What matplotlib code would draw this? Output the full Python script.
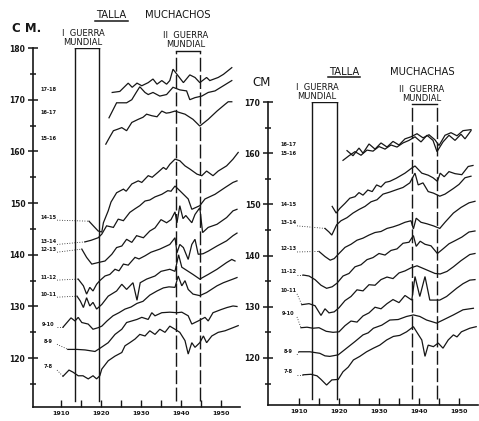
import matplotlib
matplotlib.use('Agg')
from matplotlib import pyplot
from matplotlib.lines import Line2D
from matplotlib.ticker import MultipleLocator, FixedLocator

FIG_W = 479
FIG_H = 421
DPI = 100
INK = '#161616'
CURVE_LW = 0.9

# ---- boys (muchachos): (year, cm) ----
boys_7_8 = [(1910.5, 116.5), (1912, 117.7), (1913, 117.3), (1914.3, 116.6), (1915.5, 116.6), (1916.8, 116),
            (1918, 116.6), (1918.9, 116), (1919.7, 116.6), (1920.2, 117.9), (1921.8, 119.5), (1923.5, 120.4),
            (1925.2, 121.1), (1926, 122.4), (1927.2, 123), (1928.5, 123.7), (1929.7, 124.6), (1931, 124.3),
            (1932.2, 125.3), (1933.5, 124.6), (1934.7, 125.6), (1936, 125), (1937.2, 126.2), (1938.5, 125.6),
            (1939.7, 125), (1941, 123.4), (1941.8, 120.8), (1942.7, 123), (1943.5, 122.1), (1944.7, 123),
            (1945.6, 124.3), (1946.4, 123), (1947.7, 124.3), (1949.3, 125), (1951, 125.3), (1953, 125.9),
            (1954.3, 126.3)]
boys_8_9 = [(1911.7, 121.7), (1914, 121.7), (1916, 121.6), (1918.5, 121.3), (1919.7, 121.9), (1921.8, 123),
            (1923.5, 124.6), (1925.2, 125.6), (1926.4, 126.9), (1927.7, 127.2), (1929, 127.5), (1930.2, 127.9),
            (1931.8, 127.5), (1932.7, 128.8), (1933.5, 128.2), (1935.2, 128.8), (1937.2, 128.9), (1939, 128.8),
            (1940.2, 128.9), (1941.8, 128.2), (1942.7, 126.6), (1944.3, 127.2), (1946, 127.9), (1946.8, 127.2),
            (1948, 128.8), (1950, 129.4), (1951.5, 129.8), (1953, 130.1), (1954, 130)]
boys_9_10 = [(1910.5, 126), (1911.5, 126.9), (1912.5, 127.8), (1913.5, 127.2), (1914.3, 127.9), (1915.2, 126.9),
             (1916.8, 126.6), (1918, 125.6), (1919.3, 125.9), (1920.2, 126.2), (1921.5, 127.2), (1923, 128.2),
             (1924.5, 128.8), (1926, 129.5), (1927.5, 129.9), (1929, 130.6), (1930.5, 131), (1932.2, 132.2),
             (1934, 133), (1935.6, 133.6), (1937, 133.8), (1938.5, 133.7), (1939.3, 135.9), (1940.2, 134),
             (1941, 135), (1941.8, 133.3), (1943, 132.4), (1944.7, 132.1), (1946.4, 132.7), (1949, 134),
             (1950.6, 134.6), (1953, 135.3), (1954, 135.6)]
boys_10_11 = [(1914, 132), (1914.8, 131.1), (1915.6, 129.8), (1916.4, 131.7), (1917.2, 130.1), (1918, 130.8),
              (1918.9, 129.5), (1920.2, 130.4), (1921.8, 132), (1923.9, 133), (1925.2, 134.3), (1926.4, 133.3),
              (1928, 134.6), (1929, 131.2), (1929.8, 134.6), (1931.4, 135.3), (1933.5, 135.9), (1935, 136.8),
              (1937.2, 137.2), (1938.5, 136.8), (1939.4, 140), (1940.2, 137.6), (1941, 137.2), (1943, 136.2),
              (1944.7, 135.3), (1946.8, 136.2), (1949, 137.2), (1951.4, 138.5), (1952.7, 139.1), (1953.5, 138.8)]
boys_11_12 = [(1914.3, 135.3), (1915.6, 134), (1916.4, 132.4), (1917.2, 133.7), (1918, 133), (1918.9, 134.3),
              (1919.7, 135), (1921, 135.9), (1922.2, 136.2), (1923.5, 137.2), (1924.5, 136.9), (1925.6, 138.2),
              (1926.8, 138), (1928.5, 139.5), (1929.5, 139.2), (1931, 139.8), (1932.5, 140.5), (1934.7, 141.1),
              (1937.2, 142), (1938.5, 143.3), (1939, 140.4), (1939.7, 142), (1940.6, 141.4), (1941.8, 139.1),
              (1942.7, 142), (1943.5, 143), (1944.3, 140.1), (1945.5, 140.2), (1946.8, 140.7), (1949, 141.7),
              (1951.4, 142.7), (1953, 143.7), (1954, 144.2)]
boys_12_13 = [(1915.2, 141.1), (1916.4, 139.5), (1917.7, 138.2), (1919.3, 138.5), (1921, 138.8), (1922.7, 140.1),
              (1923.9, 141.4), (1925.2, 141.7), (1926.4, 143), (1927.7, 142.4), (1928.9, 143.7), (1930.6, 143.3),
              (1932.2, 144.6), (1933.5, 145.2), (1935, 146.8), (1936.4, 146.2), (1937.5, 146.8), (1938.5, 148.3),
              (1939, 146.2), (1939.7, 149.5), (1940.5, 147), (1941.2, 147.6), (1942.7, 146.2), (1943.5, 147.8),
              (1944.7, 149.1), (1945.4, 144.3), (1946.8, 145.3), (1949, 145.9), (1951.4, 147.2), (1953, 148.5),
              (1954, 148.8)]
boys_13_14 = [(1916, 142.5), (1917.5, 142.8), (1919.3, 143.3), (1920.2, 144), (1921.4, 145.6), (1923.1, 145.3),
              (1924.3, 146.9), (1925.6, 146.6), (1927.2, 148.2), (1928.5, 148.9), (1929.7, 149.5), (1931, 150.4),
              (1932.2, 150.6), (1933.5, 151.2), (1935.2, 151.7), (1936.7, 152.4), (1937.5, 152.3), (1938.5, 153.3),
              (1939.7, 152.4), (1941.8, 150.8), (1942.7, 148.8), (1944.7, 149.5), (1946, 150.8), (1948.5, 151.7),
              (1951, 153), (1953, 154), (1954, 154.3)]
boys_14_15 = [(1917, 146.5), (1918.2, 145.5), (1919.3, 144.6), (1920.2, 144.4), (1920.6, 146.2), (1921.8, 148.5),
              (1922.5, 150.2), (1923.9, 152), (1925.6, 152.7), (1926.3, 152.3), (1927.7, 153.7), (1929.3, 154.3),
              (1930.2, 154), (1931.8, 155.3), (1932.8, 155), (1934.3, 156), (1935.6, 156.9), (1936.3, 156.5),
              (1937.2, 157.5), (1938.5, 158.5), (1939.7, 158.2), (1941, 157.2), (1942.2, 156.6), (1944, 155.6),
              (1945.2, 155.3), (1946.4, 156.2), (1948, 155.3), (1949.3, 156.2), (1951.4, 157.2), (1953, 158.5),
              (1954.3, 159.8)]
boys_15_16 = [(1921.2, 161.4), (1922.2, 162.8), (1923.1, 164), (1924.2, 164.3), (1925.2, 164.6), (1926.4, 164),
              (1927.7, 165.6), (1929.3, 166.2), (1930.5, 166.6), (1931.4, 167.2), (1932.7, 166.9), (1934, 166.7),
              (1935.2, 167.8), (1936.3, 167.4), (1937.2, 167.5), (1938.5, 167.8), (1939.7, 167.5), (1941, 167.2),
              (1943, 166.2), (1944.7, 164.9), (1946.8, 166.2), (1949, 167.8), (1951, 169.1), (1951.8, 169.6),
              (1952.7, 169.6)]
boys_16_17 = [(1922, 166.5), (1923.9, 169.4), (1926.4, 169.4), (1927.7, 170), (1928.8, 171.4), (1929.7, 172.5),
              (1931, 171.4), (1931.8, 171), (1933, 171.4), (1934.7, 170.7), (1936.4, 171), (1938, 172.4),
              (1939.7, 171.9), (1941.4, 171.7), (1942.2, 170), (1943.5, 170.4), (1945.2, 170.7), (1946.8, 171.4),
              (1948.5, 171.7), (1950.6, 172.7), (1952.7, 173.7)]
boys_17_18 = [(1922.8, 171.4), (1924.7, 171.6), (1926.8, 173.2), (1927.8, 172.4), (1929, 173.2), (1930.2, 172.7),
              (1931.8, 173.3), (1933, 174), (1934, 173), (1935.2, 173.7), (1936.4, 173), (1937.2, 173.7),
              (1938, 175.9), (1939.3, 174.6), (1940.6, 173.3), (1942.2, 174.8), (1943.5, 174.3), (1944.7, 173.3),
              (1946.4, 174.3), (1947.2, 173.7), (1949.3, 174.3), (1950.6, 174.9), (1952.7, 176.2)]

BOYS_SERIES = [boys_7_8, boys_8_9, boys_9_10, boys_10_11, boys_11_12, boys_12_13,
               boys_13_14, boys_14_15, boys_15_16, boys_16_17, boys_17_18]
BOYS_LABELS = ['7-8', '8-9', '9-10', '10-11', '11-12', '12-13', '13-14', '14-15', '15-16', '16-17', '17-18']
BOYS_LABEL_CM = [118.3, 123.3, 126.6, 132.4, 135.7, 141.1, 142.6, 147.3, 162.4, 167.6, 172.0]

# ---- girls (muchachas): (year, cm) ----
girls_7_8 = [(1911, 116.7), (1913, 116.8), (1914.5, 116.5), (1915.5, 115.8), (1916.9, 114.7), (1918.2, 115.7),
             (1919.8, 115.8), (1921, 117.3), (1922.3, 118.2), (1923.6, 119.6), (1925.2, 120.3), (1926.9, 121.2),
             (1928.6, 121.9), (1930.2, 122.5), (1931.9, 123.5), (1933.6, 124.2), (1935.2, 124.4), (1936.9, 125.1),
             (1938.6, 126.1), (1939.4, 125.1), (1940.7, 123.5), (1941.5, 120.3), (1942.3, 122.5), (1943.6, 122.2),
             (1944.8, 122.9), (1946, 121.9), (1947.3, 123.5), (1948.6, 124.5), (1949.5, 124.1), (1950.6, 125.1),
             (1952.7, 125.8), (1954.3, 126.1)]
girls_8_9 = [(1910, 121.2), (1912.7, 121.2), (1915.2, 120.9), (1916.5, 120.4), (1917.7, 120.3), (1919.8, 120.6),
             (1921.9, 121.9), (1924, 123.2), (1926, 124.5), (1927.3, 124.9), (1928.6, 125.8), (1930.7, 126.4),
             (1932.7, 127.4), (1934.8, 127.5), (1936.9, 128.1), (1938.6, 128.4), (1940.2, 128.1), (1941.9, 127.4),
             (1944.4, 126.8), (1946, 127.4), (1948.6, 128.4), (1951, 129.4), (1953.6, 129.7)]
girls_9_10 = [(1910.5, 125.9), (1912, 126), (1913.5, 125.8), (1915, 125.9), (1916.8, 125.2), (1918.5, 125),
              (1920, 125.1), (1921.5, 126.3), (1923, 127.2), (1924.5, 127), (1926, 128.2), (1927.5, 128.8),
              (1929, 129.9), (1930.5, 129.6), (1932, 130.6), (1933.5, 131.4), (1935, 130.8), (1936.5, 132.2),
              (1938.2, 131.3), (1939, 135.9), (1940.2, 132), (1941.5, 135.9), (1942.7, 131.3), (1945.2, 131.3),
              (1946.9, 132), (1949.4, 133.6), (1951, 134.5), (1952.7, 135.2), (1954, 135.3)]
girls_10_11 = [(1910.7, 130.4), (1912.5, 130.6), (1914, 130.2), (1915.5, 128.3), (1916.5, 129.6), (1917.5, 128.8),
               (1918.8, 129), (1920, 129.8), (1921.5, 131.2), (1923, 132), (1924.5, 133.3), (1926, 133.1),
               (1927.5, 134.3), (1929, 134.2), (1930.5, 135.3), (1932, 135.8), (1933.5, 135.5), (1935, 136.6),
               (1936.5, 137), (1938, 137.6), (1939.5, 138), (1941, 137.5), (1942.5, 137), (1944, 136.5),
               (1945.3, 136.4), (1947, 136.9), (1948.6, 137.8), (1950.5, 139), (1952.7, 140.2), (1954, 140.4)]
girls_11_12 = [(1911, 136.2), (1912.5, 136), (1914, 135.3), (1915.5, 134.2), (1916.9, 133.6), (1918.3, 133.9),
               (1919.5, 134.6), (1921, 136), (1922.5, 136.5), (1924, 137.8), (1925.5, 138.2), (1927, 139.2),
               (1928.5, 139.6), (1930, 140.4), (1931.5, 140.1), (1933, 141), (1934.5, 141.3), (1936, 142.4),
               (1937.5, 142.6), (1938.6, 143.9), (1939.3, 141.8), (1940.3, 142.8), (1941.5, 142.2), (1943, 141.9),
               (1944.6, 140.4), (1946, 141.3), (1947.5, 142.3), (1949, 142.9), (1950.7, 143.6), (1952.5, 144.6),
               (1954, 144.8)]
girls_12_13 = [(1915, 140.8), (1916.5, 139.8), (1917.8, 139.1), (1918.8, 139.4), (1920, 140.4), (1921.5, 141.6),
               (1923, 142.2), (1924.5, 143), (1926, 143.4), (1927.5, 144), (1929, 144.5), (1930.5, 144.7),
               (1932, 145.3), (1933.5, 145.6), (1935, 146), (1936.5, 146.5), (1938, 146.8), (1938.6, 145.2),
               (1939.3, 147.3), (1940.5, 146.5), (1942, 146.2), (1943.6, 145.8), (1945.2, 145.3), (1946.5, 146.5),
               (1948.6, 148.3), (1950.5, 149.4), (1952.5, 150.3), (1954, 150.6)]
girls_13_14 = [(1916.5, 145.3), (1917.5, 144.6), (1918.2, 144), (1919.4, 146), (1920.5, 146.8), (1922, 147.4),
               (1923.5, 148.3), (1925, 149), (1926.5, 149.6), (1928, 150.5), (1929.5, 150.9), (1931, 152),
               (1932.7, 152.4), (1934.5, 152.9), (1936, 153.3), (1937.7, 154.2), (1939, 156.1), (1939.8, 153.8),
               (1941, 154.2), (1942.3, 152.5), (1943.6, 152.2), (1945.2, 151.6), (1946.5, 152), (1948.6, 153.1),
               (1950, 153.9), (1951.5, 155.2), (1953, 155.5)]
girls_14_15 = [(1918.3, 149.6), (1919.3, 148.3), (1920.2, 149.2), (1921.5, 150.2), (1922.7, 151.2), (1924, 151.5),
               (1925, 152.3), (1926, 151.8), (1927.2, 152.8), (1928.3, 152.5), (1929.4, 153.8), (1930.5, 153.4),
               (1931.6, 154.3), (1932.7, 154.5), (1934.3, 155.1), (1936.5, 156.1), (1938.2, 157.1), (1939, 157.5),
               (1940.7, 156.1), (1942.3, 155.7), (1943.5, 155.2), (1944.6, 154.5), (1945.3, 156.1), (1946.3, 155.4),
               (1947.5, 156.4), (1949, 156), (1950.7, 155.8), (1952.3, 157.4), (1953.5, 157.6)]
girls_15_16 = [(1921, 158.6), (1922.5, 159.5), (1924, 160.3), (1925.5, 159.6), (1927, 160.6), (1928.5, 160.4),
               (1930, 161.3), (1931.5, 160.8), (1933, 161.6), (1934.5, 161.2), (1936, 162), (1937.5, 162.5),
               (1939, 163.2), (1940.5, 162.2), (1942, 163.5), (1943.5, 162.5), (1944.5, 160.3), (1946, 162.2),
               (1947.5, 163.5), (1949, 162.5), (1950.5, 163.7), (1951.5, 162.8), (1953, 164.4)]
girls_16_17 = [(1922, 160.5), (1923.5, 159.5), (1925, 161), (1926, 160), (1927.5, 161.8), (1929, 160.8),
               (1930.5, 162), (1932, 161.2), (1933.5, 162.3), (1935, 161.6), (1936.5, 162.8), (1938, 163.2),
               (1939.5, 163.8), (1941, 163), (1942.5, 163.6), (1944, 162.6), (1945, 161.5), (1946.5, 163.5),
               (1948, 164), (1949.5, 163.4), (1951, 164.4), (1953, 164.6)]

GIRLS_SERIES = [girls_7_8, girls_8_9, girls_9_10, girls_10_11, girls_11_12, girls_12_13,
                girls_13_14, girls_14_15, girls_15_16, girls_16_17]
GIRLS_LABELS = ['7-8', '8-9', '9-10', '10-11', '11-12', '12-13', '13-14', '14-15', '15-16', '16-17']
GIRLS_LABEL_CM = [117.3, 121.2, 128.6, 133.1, 136.8, 141.3, 146.4, 149.9, 160.0, 161.6]

DECADES = [1910, 1920, 1930, 1940, 1950]
HALF_DECADES = [1915, 1925, 1935, 1945]

# war periods as drawn: (start, end, box top)
BOYS_WAR1 = (1913.5, 1919.5, 180.0)
BOYS_WAR2 = (1938.8, 1944.8, 179.4)
GIRLS_WAR1 = (1913.3, 1919.5, 170.0)
GIRLS_WAR2 = (1938.3, 1944.4, 169.7)


def fig_xy(x_px, y_px):
	return x_px / FIG_W, 1 - y_px / FIG_H


def war_box(ax, war, bottom, dashed):
	start, end, top = war
	ls = (0, (10, 2.5)) if dashed else '-'
	ax.plot([start, start], [bottom, top], color=INK, lw=1.0, ls=ls)
	ax.plot([end, end], [bottom, top], color=INK, lw=1.0, ls=ls)
	ax.plot([start, end], [top, top], color=INK, lw=1.0)


def draw_panel(ax, series, labels, label_cm, label_year, yticks, ylim, xlim, wars):
	ax.set_xlim(*xlim)
	ax.set_ylim(*ylim)
	for sp in ['top', 'right']:
		ax.spines[sp].set_visible(False)
	for sp in ['left', 'bottom']:
		ax.spines[sp].set_linewidth(1.2)
		ax.spines[sp].set_color(INK)

	for s in series:
		years = [p[0] for p in s]
		cms = [p[1] for p in s]
		ax.plot(years, cms, color=INK, lw=CURVE_LW, solid_joinstyle='miter')

	for s, lab, cm in zip(series, labels, label_cm):
		ax.text(label_year, cm, lab, fontsize=3.6, fontweight='bold', color=INK,
		        ha='center', va='center')
		if s[0][0] < 1918:
			ax.plot([label_year + 2.2, s[0][0]], [cm - 0.6, s[0][1]], color=INK,
			        lw=0.6, ls=(0, (1, 2)))

	war_box(ax, wars[0], ylim[0] + 1.2, False)
	war_box(ax, wars[1], ylim[0] + 1.2, True)

	ax.yaxis.set_major_locator(FixedLocator(yticks))
	ax.yaxis.set_minor_locator(MultipleLocator(5))
	ax.set_yticklabels([str(t) for t in yticks])
	ax.xaxis.set_major_locator(FixedLocator(DECADES))
	ax.xaxis.set_minor_locator(FixedLocator(HALF_DECADES))
	ax.set_xticklabels([str(d) for d in DECADES])
	ax.tick_params(axis='y', which='major', direction='inout', length=7, width=1.1,
	               labelsize=5.5, pad=2, colors=INK)
	ax.tick_params(axis='y', which='minor', direction='inout', length=5, width=1.1, colors=INK)
	ax.tick_params(axis='x', which='both', direction='in', length=5, width=1.0,
	               labelsize=4.5, pad=3, colors=INK)
	for t in ax.get_xticklabels() + ax.get_yticklabels():
		t.set_fontweight('bold')


fig = pyplot.figure(figsize=(FIG_W / DPI, FIG_H / DPI), dpi=DPI)
fig.patch.set_facecolor('white')

# left panel: x 33..240 px, y 48 (180 cm) .. 407 px
left_ax = fig.add_axes([33 / FIG_W, (FIG_H - 407) / FIG_H, 207 / FIG_W, 359 / FIG_H])
draw_panel(left_ax, BOYS_SERIES, BOYS_LABELS, BOYS_LABEL_CM, 1906.8,
           [120, 130, 140, 150, 160, 170, 180], (110.56, 180.0), (1903.0, 1954.75),
           (BOYS_WAR1, BOYS_WAR2))

# right panel: x 268..478 px, y 102 (170 cm) .. 405 px
right_ax = fig.add_axes([268 / FIG_W, (FIG_H - 405) / FIG_H, 210 / FIG_W, 303 / FIG_H])
draw_panel(right_ax, GIRLS_SERIES, GIRLS_LABELS, GIRLS_LABEL_CM, 1907.3,
           [120, 130, 140, 150, 160, 170], (110.8, 170.0), (1902.25, 1954.75),
           (GIRLS_WAR1, GIRLS_WAR2))

TITLE_FS = 7.2
WAR_FS = 6.0

# headings, boys
fig.text(*fig_xy(111, 15), 'TALLA', fontsize=TITLE_FS, ha='center', va='center', color=INK)
fig.add_artist(Line2D([95 / FIG_W, 128 / FIG_W], [1 - 21 / FIG_H] * 2, transform=fig.transFigure, color=INK, lw=1.1))
fig.text(*fig_xy(178, 15), 'MUCHACHOS', fontsize=TITLE_FS, ha='center', va='center', color=INK)
fig.text(*fig_xy(27, 28), 'C M.', fontsize=8.5, fontweight='bold', ha='center', va='center', color=INK)
fig.text(*fig_xy(83, 38), 'I  GUERRA\nMUNDIAL', fontsize=WAR_FS, ha='center', va='center',
         linespacing=1.0, color=INK)
fig.text(*fig_xy(186, 40), 'II  GUERRA\nMUNDIAL', fontsize=WAR_FS, ha='center', va='center',
         linespacing=1.0, color=INK)

# headings, girls
fig.text(*fig_xy(344, 72), 'TALLA', fontsize=TITLE_FS, ha='center', va='center', color=INK)
fig.add_artist(Line2D([328 / FIG_W, 360 / FIG_W], [1 - 77 / FIG_H] * 2, transform=fig.transFigure, color=INK, lw=1.1))
fig.text(*fig_xy(422, 72), 'MUCHACHAS', fontsize=TITLE_FS, ha='center', va='center', color=INK)
fig.text(*fig_xy(262, 83), 'CM', fontsize=8.5, ha='center', va='center', color=INK)
fig.text(*fig_xy(317, 92), 'I  GUERRA\nMUNDIAL', fontsize=WAR_FS, ha='center', va='center',
         linespacing=1.0, color=INK)
fig.text(*fig_xy(422, 94), 'II  GUERRA\nMUNDIAL', fontsize=WAR_FS, ha='center', va='center',
         linespacing=1.0, color=INK)

fig.savefig('out.png', dpi=DPI, facecolor='white')
